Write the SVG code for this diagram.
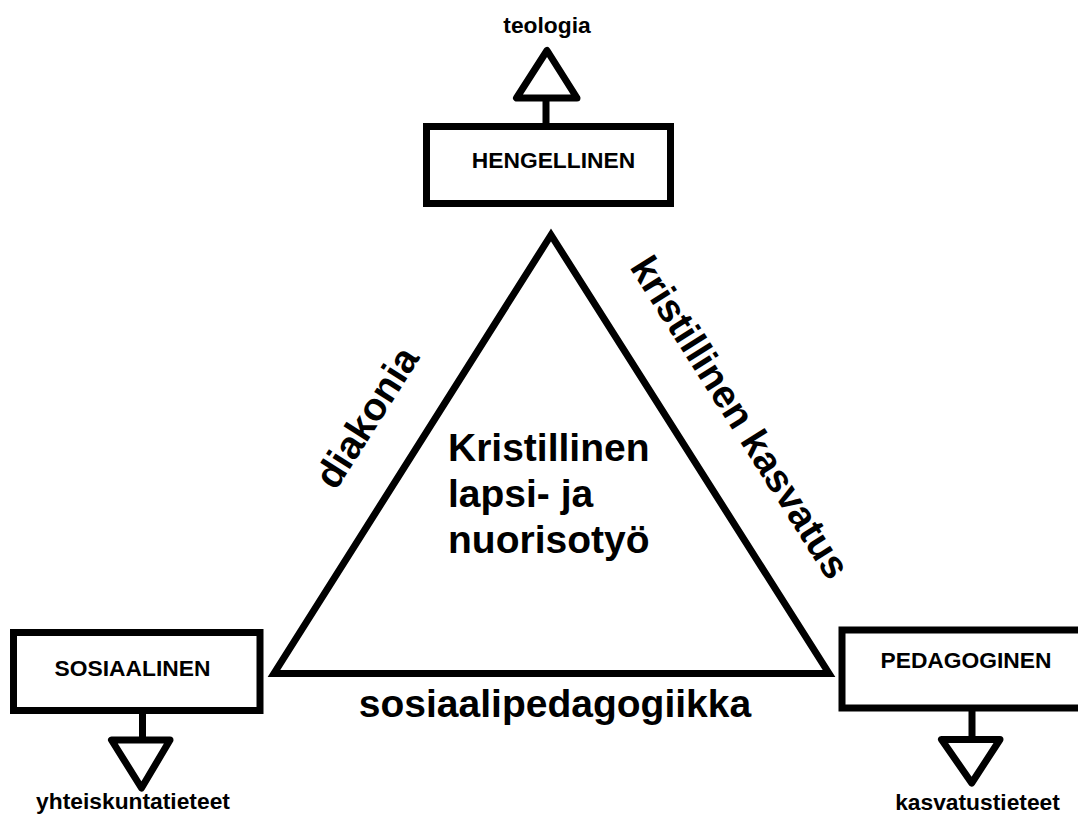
<svg xmlns="http://www.w3.org/2000/svg" width="1078" height="814" viewBox="0 0 1078 814">
  <style>
    .box { fill: #ffffff; stroke: #000000; stroke-width: 7; }
    .tri { fill: #ffffff; stroke: #000000; stroke-width: 7; stroke-linejoin: round; }
    .stem { stroke: #000000; stroke-width: 7; fill: none; }
    .main { fill: none; stroke: #000000; stroke-width: 7; stroke-linejoin: miter; }
    .small { font-family: "Liberation Sans", Arial, sans-serif; font-weight: bold; font-size: 22.8px; fill: #000000; }
    .big { font-family: "Liberation Sans", Arial, sans-serif; font-weight: bold; font-size: 39px; fill: #000000; }
  </style>
  <rect x="0" y="0" width="1078" height="814" fill="#ffffff"/>

  <g id="connectors">
    <line class="stem" x1="546" y1="97" x2="546" y2="124"/>
    <polygon class="tri" points="547,50.5 516.5,98 577,98"/>
    <line class="stem" x1="142.5" y1="713" x2="142.5" y2="741"/>
    <polygon class="tri" points="111.5,740 170,740 141.5,788"/>
    <line class="stem" x1="972" y1="710" x2="972" y2="740"/>
    <polygon class="tri" points="941.5,739.5 1000,739.5 971.7,783"/>
  </g>

  <g id="triangle">
    <polygon class="main" points="551,235 274,673.5 829,673.5"/>
    <text class="big" x="448" y="461">Kristillinen</text>
    <text class="big" x="448" y="507">lapsi- ja</text>
    <text class="big" x="448" y="553">nuorisotyö</text>
  </g>

  <g id="label-diakonia">
    <text class="big" text-anchor="middle" transform="translate(368,418) rotate(-57.7)" x="0" y="12">diakonia</text>
  </g>
  <g id="label-kasvatus">
    <text class="big" text-anchor="middle" transform="translate(739,418) rotate(57.6)" x="0" y="12">kristillinen kasvatus</text>
  </g>
  <g id="label-sosiaalipedagogiikka">
    <text class="big" text-anchor="middle" x="555" y="717">sosiaalipedagogiikka</text>
  </g>

  <g id="hengellinen">
    <rect class="box" x="426.5" y="126.5" width="244" height="77"/>
    <text class="small" text-anchor="middle" x="553.5" y="168">HENGELLINEN</text>
  </g>
  <g id="teologia">
    <text class="small" text-anchor="middle" x="547" y="33">teologia</text>
  </g>

  <g id="sosiaalinen">
    <rect class="box" x="13.5" y="632.5" width="246.5" height="78"/>
    <text class="small" text-anchor="middle" x="132.5" y="676">SOSIAALINEN</text>
  </g>
  <g id="yhteiskuntatieteet">
    <text class="small" text-anchor="middle" x="133" y="809">yhteiskuntatieteet</text>
  </g>

  <g id="pedagoginen">
    <rect class="box" x="842" y="630" width="250" height="78"/>
    <text class="small" text-anchor="middle" x="966" y="668">PEDAGOGINEN</text>
  </g>
  <g id="kasvatustieteet">
    <text class="small" text-anchor="middle" x="977.5" y="810">kasvatustieteet</text>
  </g>
</svg>
